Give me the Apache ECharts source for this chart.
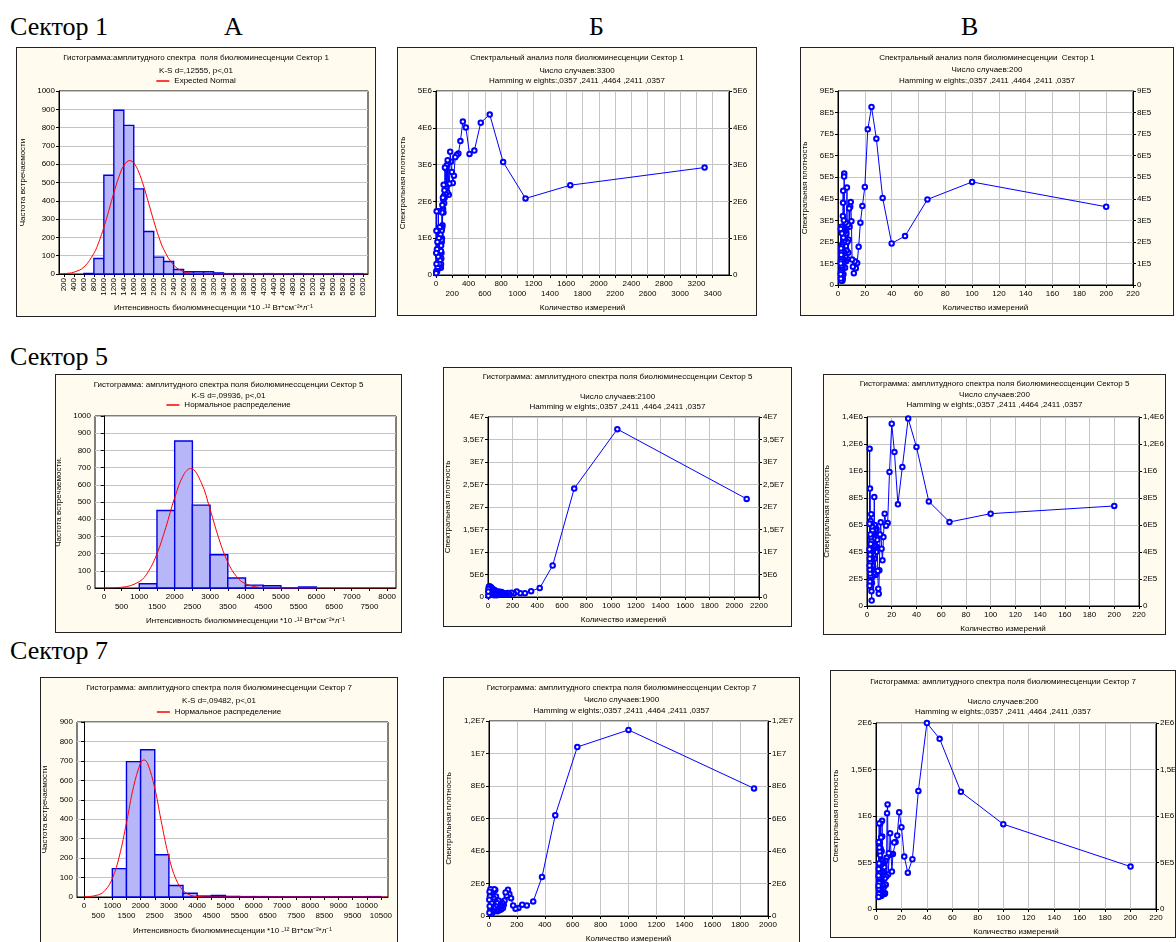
<!DOCTYPE html>
<html>
<head>
<meta charset="utf-8">
<title>Сектор 1, 5, 7</title>
<script src="https://cdn.jsdelivr.net/npm/echarts@6/dist/echarts.min.js"></script>
<style>
	body{margin:0;background:#fff;width:1176px;height:942px;overflow:hidden;position:relative}
	.hd{position:absolute;font-family:"Liberation Serif","Times New Roman",serif;font-size:26px;line-height:26px;color:#000;white-space:nowrap}
	.panel{position:absolute;background:#fffcef;border:1px solid #222;box-sizing:border-box}
</style>
</head>
<body>
<div class="hd" style="left:10px;top:14px">Сектор 1</div>
<div class="hd" style="left:224px;top:14px">А</div>
<div class="hd" style="left:589px;top:14px">Б</div>
<div class="hd" style="left:961px;top:14px">В</div>
<div class="hd" style="left:10px;top:344px">Сектор 5</div>
<div class="hd" style="left:10px;top:638px">Сектор 7</div>
<script>
// ---- histograms (column A): bin start, counts, fitted normal curve
var a1Bins = [600,800,1000,1200,1400,1600,1800,2000,2200,2400,2600,2800,3000,3200,3400,3600,3800,4000,4200,4400,4600,4800,5000,5200,5400,5600,5800,6000];
var a1Counts = [3,85,540,895,812,465,232,92,68,25,12,12,12,6,2,2,2,1,2,1,1,2,1,1,1,2,1,2];
var a1NormX = [100,200,400,600,800,900,1000,1100,1200,1300,1400,1520,1600,1700,1800,1900,2000,2100,2200,2400,2600,2800,3000,3400,6300];
var a1NormY = [1,2,10,38,113,175,255,347,443,529,592,620,607,557,479,386,291,205,135,49,13,3,1,0,0];

var a2Bins = [1000,1500,2000,2500,3000,3500,4000,4500,5000,5500];
var a2Counts = [25,451,855,482,193,58,17,13,0,6];
var a2NormX = [0,500,1000,1250,1500,1750,2000,2250,2450,2750,3000,3250,3500,3750,4000,4500,5000,8250];
var a2NormY = [0,4,37,94,199,352,525,657,695,613,457,286,150,66,25,2,0,0];

var a3Bins = [1000,1500,2000,2500,3000,3500,4000,4500,5000,5500,6000,6500,7000,7500,8000,8500,9000,9500,10000];
var a3Counts = [146,696,757,217,59,19,5,8,3,2,2,1,1,1,1,1,1,1,2];
var a3NormX = [0,500,750,1000,1250,1500,1750,2000,2120,2250,2500,2750,3000,3250,3500,3750,4000,4500,10750];
var a3NormY = [0,11,35,95,211,382,567,689,705,686,560,374,205,92,34,10,3,0,0];

// ---- spectra (columns Б, В): [period, spectral density]
var b1Spec = [[3300,2.92e6],[1650,2.44e6],[1100,2.08e6],[825,3.07e6],[660,4.36e6],[550,4.14e6],[471,3.38e6],[412,3.29e6],[367,4.01e6],[330,4.17e6],
	[300,3.64e6],[275,3.30e6],[254,3.26e6],[236,3.20e6],[220,2.70e6],[206,2.50e6],[194,2.80e6],[183,3.08e6],[174,3.35e6],[165,2.48e6],
	[157,2.18e6],[150,3.05e6],[143,3.12e6],[138,2.25e6],[132,2.98e6],[127,2.40e6],[122,2.90e6],[118,2.20e6],[114,2.45e6],[110,2.92e6],
	[106,2.10e6],[103,2.30e6],[100,1.95e6],[97,2.15e6],[94,2.45e6],[92,1.70e6],[89,2.05e6],[87,1.80e6],[85,2.10e6],[82,1.75e6],
	[80,1.35e6],[78,1.90e6],[76,1.30e6],[75,1.70e6],[73,1.00e6],[72,1.25e6],[70,0.90e6],[69,1.20e6],[67,0.60e6],[66,0.95e6],
	[65,0.45e6],[63,0.80e6],[62,0.30e6],[61,0.65e6],[60,0.20e6],[55,1.10e6],[50,0.40e6],[45,1.30e6],[40,0.30e6],[36,1.00e6],
	[33,0.20e6],[30,1.73e6],[27,0.50e6],[24,1.20e6],[20,0.20e6],[17,0.90e6],[14,0.10e6],[12,0.70e6],[10,0.10e6],[8,1.73e6],
	[6,0.30e6],[5,1.20e6],[4,0.10e6],[3,0.60e6],[2,0.05e6]];

var c1Spec = [[200,3.63e5],[100,4.78e5],[66.7,3.97e5],[50,2.27e5],[40,1.93e5],[33.3,4.04e5],[28.6,6.79e5],[25,8.26e5],[22.2,7.22e5],[20,4.55e5],
	[18.2,3.67e5],[16.7,2.89e5],[15.4,1.77e5],[14.3,1.02e5],[13.3,0.78e5],[12.5,1.10e5],[11.8,0.55e5],[11.1,0.85e5],[10.5,1.18e5],[10,2.96e5],
	[9.5,3.85e5],[9.1,3.63e5],[8.7,2.70e5],[8.3,3.55e5],[8,2.10e5],[7.7,1.50e5],[7.4,2.80e5],[7.1,1.20e5],[6.9,2.00e5],[6.67,4.52e5],
	[6.45,1.60e5],[6.25,2.40e5],[6.06,1.10e5],[5.88,1.80e5],[5.71,2.90e5],[5.56,1.30e5],[5.41,2.50e5],[5.26,0.80e5],[5.13,2.10e5],[5,1.50e5],
	[4.88,2.60e5],[4.76,1.10e5],[4.65,5.17e5],[4.55,5.03e5],[4.44,2.00e5],[4.35,3.00e5],[4.26,1.20e5],[4.17,2.60e5],[4.08,0.50e5],[4,2.20e5],
	[3.92,1.00e5],[3.85,4.37e5],[3.77,3.81e5],[3.7,1.50e5],[3.64,3.20e5],[3.57,0.30e5],[3.51,2.40e5],[3.45,0.80e5],[3.39,2.70e5],[3.33,1.70e5],
	[3.28,0.20e5],[3.23,1.90e5],[3.17,1.20e5],[3.13,2.60e5],[3.08,0.60e5],[3.03,1.60e5],[2.99,0.90e5],[2.94,2.40e5],[2.9,1.30e5],[2.86,0.40e5],
	[2.82,1.80e5],[2.78,1.10e5],[2.74,2.60e5],[2.7,0.70e5],[2.67,1.50e5],[2.63,0.30e5],[2.6,1.20e5],[2.56,2.70e5],[2.53,0.90e5],[2.5,1.60e5],
	[2.44,0.50e5],[2.38,1.40e5],[2.33,0.20e5],[2.27,1.70e5],[2.22,0.60e5],[2.17,1.10e5],[2.13,0.30e5],[2.08,1.00e5],[2.04,2.60e5],[2,0.50e5]];

var b2Spec = [[2100,21.8e6],[1050,37.3e6],[700,24.1e6],[525,7.0e6],[420,2.0e6],[350,1.3e6],[300,0.85e6],[262,0.85e6],[233,1.2e6],[210,0.8e6],
	[191,0.95e6],[175,0.6e6],[162,0.9e6],[150,0.5e6],[140,0.8e6],[131,0.6e6],[124,0.9e6],[117,0.7e6],[110,1.1e6],[105,0.8e6],
	[100,0.6e6],[95,1.0e6],[91,0.7e6],[88,1.2e6],[84,0.5e6],[81,0.9e6],[78,0.6e6],[75,1.0e6],[72,0.4e6],[70,1.1e6],
	[66,0.5e6],[62,1.3e6],[58,0.6e6],[55,1.5e6],[50,0.4e6],[46,1.6e6],[42,0.7e6],[38,1.8e6],[35,0.5e6],[32,1.9e6],
	[29,0.8e6],[26,2.1e6],[23,0.6e6],[20,2.3e6],[17,0.9e6],[15,2.0e6],[13,0.5e6],[11,2.4e6],[9,0.8e6],[7,2.2e6],
	[5,0.4e6],[4,1.8e6],[3,0.3e6],[2,1.2e6]];

var c2Spec = [[200,7.41e5],[100,6.84e5],[66.7,6.22e5],[50,7.75e5],[40,11.78e5],[33.3,13.88e5],[28.6,10.3e5],[25,7.53e5],[22.2,11.4e5],[20,13.5e5],
	[18.2,9.93e5],[16.7,6.15e5],[15.4,5.95e5],[14.3,6.84e5],[13.3,5.11e5],[12.5,3.38e5],[11.8,4.25e5],[11.1,6.2e5],[10.5,5.3e5],[10,2.64e5],
	[9.5,0.91e5],[9.1,1.28e5],[8.7,2.6e5],[8.3,4.9e5],[8,4.37e5],[7.7,5.7e5],[7.4,4.0e5],[7.1,5.6e5],[6.9,2.3e5],[6.67,5.9e5],
	[6.45,4.4e5],[6.25,6.0e5],[6.06,3.5e5],[5.88,8.07e5],[5.71,4.5e5],[5.56,2.4e5],[5.41,5.5e5],[5.26,3.8e5],[5.13,5.0e5],[5,2.9e5],
	[4.88,5.8e5],[4.76,4.1e5],[4.65,5.3e5],[4.55,3.0e5],[4.44,5.6e5],[4.35,2.2e5],[4.26,4.6e5],[4.17,3.5e5],[4.08,5.9e5],[4,1.7e5],
	[3.92,4.0e5],[3.85,2.6e5],[3.77,0.4e5],[3.7,3.6e5],[3.64,1.1e5],[3.57,4.8e5],[3.51,2.0e5],[3.45,6.8e5],[3.39,3.3e5],[3.33,5.3e5],
	[3.28,1.4e5],[3.23,4.3e5],[3.17,2.6e5],[3.13,5.1e5],[3.08,3.9e5],[3.03,1.8e5],[2.99,4.6e5],[2.94,2.7e5],[2.9,6.3e5],[2.86,3.6e5],
	[2.82,2.2e5],[2.78,5.3e5],[2.74,3.0e5],[2.7,4.2e5],[2.67,1.9e5],[2.63,4.1e5],[2.6,3.2e5],[2.56,6.1e5],[2.53,2.4e5],[2.5,3.8e5],
	[2.44,8.7e5],[2.38,1.8e5],[2.33,4.2e5],[2.27,2.7e5],[2.22,3.5e5],[2.17,1.5e5],[2.13,11.65e5],[2.08,3.0e5],[2.04,6.1e5],[2,4.2e5]];

var b3Spec = [[1900,7.85e6],[1000,11.45e6],[633,10.4e6],[475,6.2e6],[380,2.4e6],[317,0.9e6],[271,0.65e6],[238,0.7e6],[211,0.5e6],[190,0.45e6],
	[173,0.65e6],[158,1.1e6],[146,1.35e6],[136,1.62e6],[127,1.25e6],[119,1.45e6],[112,0.95e6],[106,0.7e6],[100,0.5e6],[95,0.8e6],
	[90,0.55e6],[86,0.4e6],[83,0.75e6],[79,0.6e6],[76,0.9e6],[73,0.35e6],[70,0.7e6],[68,0.95e6],[66,0.5e6],[63,0.6e6],
	[61,0.3e6],[59,0.55e6],[56,0.8e6],[53,0.35e6],[50,1.2e6],[48,0.6e6],[45,1.6e6],[42,0.4e6],[40,1.0e6],[38,1.65e6],
	[35,0.5e6],[32,1.1e6],[30,0.3e6],[27,0.9e6],[25,0.2e6],[22,1.3e6],[20,0.4e6],[18,0.8e6],[16,0.15e6],[14,1.4e6],
	[12,0.5e6],[10,1.65e6],[8,0.3e6],[6,1.2e6],[5,0.6e6],[4,1.5e6],[3,0.2e6],[2,1.0e6]];

var c3Spec = [[200,4.56e5],[100,9.12e5],[66.7,12.6e5],[50,18.3e5],[40,20.0e5],[33.3,12.7e5],[28.6,5.35e5],[25,3.91e5],[22.2,5.64e5],[20,8.8e5],
	[18.2,10.4e5],[16.7,7.9e5],[15.4,7.2e5],[14.3,7.15e5],[13.3,5.92e5],[12.5,4.02e5],[11.8,5.9e5],[11.1,8.15e5],[10.5,5.8e5],[10,6.0e5],
	[9.5,3.7e5],[9.1,11.25e5],[8.7,10.3e5],[8.3,5.5e5],[8,3.5e5],[7.7,2.6e5],[7.4,5.2e5],[7.1,1.7e5],[6.9,3.3e5],[6.67,1.6e5],
	[6.45,4.5e5],[6.25,2.4e5],[6.06,3.9e5],[5.88,1.8e5],[5.71,5.2e5],[5.56,2.2e5],[5.41,3.6e5],[5.26,1.7e5],[5.13,4.0e5],[5,2.6e5],
	[4.88,7.8e5],[4.76,9.48e5],[4.65,5.2e5],[4.55,3.0e5],[4.44,6.2e5],[4.35,2.0e5],[4.26,4.8e5],[4.17,1.4e5],[4.08,3.4e5],[4,7.7e5],
	[3.92,2.3e5],[3.85,5.0e5],[3.77,1.8e5],[3.7,3.9e5],[3.64,6.5e5],[3.57,2.8e5],[3.51,4.2e5],[3.45,1.5e5],[3.39,9.2e5],[3.33,3.6e5],
	[3.28,5.8e5],[3.23,2.0e5],[3.17,4.5e5],[3.13,2.9e5],[3.08,7.1e5],[3.03,1.6e5],[2.99,4.0e5],[2.94,2.4e5],[2.9,6.2e5],[2.86,3.2e5],
	[2.82,1.5e5],[2.78,4.9e5],[2.74,2.6e5],[2.7,3.8e5],[2.67,1.9e5],[2.63,6.6e5],[2.6,3.0e5],[2.56,4.4e5],[2.53,1.4e5],[2.5,9.2e5],
	[2.44,2.8e5],[2.38,4.9e5],[2.33,1.6e5],[2.27,3.4e5],[2.22,7.2e5],[2.17,2.2e5],[2.13,4.3e5],[2.08,1.3e5],[2.04,3.6e5],[2,2.5e5]];

var hamming = 'Hamming w eights:,0357 ,2411 ,4464 ,2411 ,0357';
var histXName = 'Интенсивность биолюминесценции *10 -¹² Вт*см⁻²*л⁻¹';
var specXName = 'Количество измерений';
var specYName = 'Спектральная плотность';

var FONT = '"Liberation Sans", Arial, sans-serif';
var GRIDC = '#c4c4c4';

function range(a, b, step) {
	var r = [];
	for (var v = a; v <= b; v += step) r.push(v);
	return r;
}

function plain(v) { return String(v); }

// 1E6, 1,5E7 ... like Statistica
function sci(v) {
	if (v === 0) return '0';
	var e = Math.floor(Math.log10(v) + 1e-9);
	var m = Math.round(v / Math.pow(10, e) * 10) / 10;
	return String(m).replace('.', ',') + 'E' + e;
}

function makePanel(box) {
	var d = document.createElement('div');
	d.className = 'panel';
	d.style.left = box[0] + 'px';
	d.style.top = box[1] + 'px';
	d.style.width = box[2] + 'px';
	d.style.height = box[3] + 'px';
	document.body.appendChild(d);
	return echarts.init(d);
}

function titles(list) {
	return list.map(function (t) {
		return {text: t[0], left: 'center', top: t[1] - 5, padding: 0,
			textStyle: {fontSize: 8, fontWeight: 'normal', color: '#000', fontFamily: FONT}};
	});
}

function histogram(c) {
	var chart = makePanel(c.box);
	var bars = c.bins.map(function (b, i) { return [b, c.counts[i], b + c.binWidth]; });
	var curve = c.normX.map(function (x, i) { return [x, c.normY[i]]; });
	var fmt = c.xFormat || plain;
	chart.setOption({
		animation: false,
		textStyle: {fontFamily: FONT},
		title: titles(c.titles),
		legend: {top: c.legendTop - 5, left: 'center', padding: 0, icon: 'rect', itemWidth: 13, itemHeight: 1.5,
			textStyle: {fontSize: 8, color: '#000'}, data: [c.normName]},
		grid: Object.assign({show: true, backgroundColor: '#fff', borderColor: '#000', borderWidth: 1,
			containLabel: false, outerBoundsMode: 'none'}, c.grid),
		xAxis: {
			type: 'value', min: c.xMin, max: c.xMax,
			name: histXName, nameLocation: 'middle', nameGap: c.xNameGap,
			nameTextStyle: {fontSize: 8, color: '#000'},
			axisLine: {lineStyle: {color: '#000'}},
			axisTick: {customValues: c.xTicks, length: 3, lineStyle: {color: '#000'}},
			// an empty label at the axis end keeps the real last labels out of min/max overlap hiding
			axisLabel: {customValues: c.xTicks.concat([c.xMax]), fontSize: 8, color: '#000', margin: 4, rotate: c.rotate || 0,
				lineHeight: 10, hideOverlap: false, showMinLabel: true, showMaxLabel: false,
				formatter: function (v) { return v === c.xMax ? '' : fmt(v); }},
			splitLine: {show: false}
		},
		yAxis: {
			type: 'value', min: 0, max: c.yMax, interval: 100,
			name: c.yName, nameLocation: 'middle', nameGap: c.yNameGap,
			nameTextStyle: {fontSize: 8, color: '#000'},
			axisLine: {show: true, lineStyle: {color: '#000'}},
			axisTick: {show: true, length: 3, lineStyle: {color: '#000'}},
			axisLabel: {fontSize: 8, color: '#000', margin: 4, formatter: plain},
			splitLine: {lineStyle: {color: GRIDC}}
		},
		series: [{
			type: 'custom',
			data: bars,
			encode: {x: [0, 2], y: 1},
			renderItem: function (params, api) {
				var s = api.coord([api.value(0), api.value(1)]);
				var e = api.coord([api.value(2), 0]);
				return {type: 'rect', shape: {x: s[0], y: s[1], width: e[0] - s[0], height: e[1] - s[1]},
					style: {fill: '#b6b6f8', stroke: '#0000e6', lineWidth: 1.4}};
			}
		}, {
			type: 'line', name: c.normName, data: curve, smooth: 0.4, symbol: 'none',
			itemStyle: {color: '#ff0000'}, lineStyle: {color: '#ff0000', width: 1}
		}]
	});
}

function spectrum(c) {
	var chart = makePanel(c.box);
	var yAx = function (right) {
		return {
			type: 'value', min: 0, max: c.yMax, interval: c.yStep, position: right ? 'right' : 'left',
			name: right ? '' : specYName, nameLocation: 'middle', nameGap: c.yNameGap,
			nameTextStyle: {fontSize: 8, color: '#000'},
			axisLine: {show: true, lineStyle: {color: '#000'}},
			axisTick: {show: true, length: 3, lineStyle: {color: '#000'}},
			axisLabel: {fontSize: 8, color: '#000', margin: 4, formatter: sci},
			splitLine: {show: !right, lineStyle: {color: GRIDC}}
		};
	};
	chart.setOption({
		animation: false,
		textStyle: {fontFamily: FONT},
		title: titles(c.titles),
		grid: Object.assign({show: true, backgroundColor: '#fff', borderColor: '#000', borderWidth: 1,
			containLabel: false, outerBoundsMode: 'none'}, c.grid),
		xAxis: {
			type: 'value', min: 0, max: c.xMax, interval: c.xStep,
			name: specXName, nameLocation: 'middle', nameGap: c.xNameGap,
			nameTextStyle: {fontSize: 8, color: '#000'},
			axisLine: {lineStyle: {color: '#000'}},
			axisTick: {length: 3, lineStyle: {color: '#000'}},
			axisLabel: {fontSize: 8, color: '#000', margin: 4, lineHeight: 10,
				formatter: function (v) { return (c.stagger && (v / c.xStep) % 2 === 1 ? '\n' : '') + v; }},
			splitLine: {show: true, lineStyle: {color: GRIDC}}
		},
		yAxis: [yAx(false), yAx(true)],
		series: [{
			type: 'line', data: c.data, symbol: 'emptyCircle', symbolSize: 4.5,
			itemStyle: {color: '#0000ff', borderWidth: 0.8},
			lineStyle: {color: '#0000ff', width: 1}
		}]
	});
}

// ---- column A
histogram({
	box: [16, 47, 360, 270], grid: {left: 42, top: 43, right: 7, bottom: 42},
	titles: [['Гистограмма:амплитудного спектра  поля биолюминесценции Сектор 1', 11], ['K-S d=,12555, p<,01', 24]],
	legendTop: 34, normName: 'Expected Normal',
	bins: a1Bins, counts: a1Counts, binWidth: 200, normX: a1NormX, normY: a1NormY,
	xMin: 100, xMax: 6300, xTicks: range(200, 6200, 200), rotate: 90, xNameGap: 30,
	yMax: 1000, yName: 'Частота встречаемости', yNameGap: 25
});
histogram({
	box: [55, 374, 347, 259], grid: {left: 39, top: 41, right: 5, bottom: 44},
	titles: [['Гистограмма: амплитудного спектра поля биолюминессценции Сектор 5', 11], ['K-S d=,09936, p<,01', 22]],
	legendTop: 31, normName: 'Нормальное распределение',
	bins: a2Bins, counts: a2Counts, binWidth: 500, normX: a2NormX, normY: a2NormY,
	xMin: -250, xMax: 8250, xTicks: range(0, 8000, 500), xNameGap: 26,
	xFormat: function (v) { return ((v / 500) % 2 === 1 ? '\n' : '') + v; },
	yMax: 1000, yName: 'Частота встречаемости.', yNameGap: 26
});
histogram({
	box: [40, 677, 358, 270], grid: {left: 36, top: 44, right: 9, bottom: 49},
	titles: [['Гистограмма: амплитудного спектра поля биолюминесценции Сектор 7', 11], ['K-S d=,09482, p<,01', 24]],
	legendTop: 35, normName: 'Нормальное распределение',
	bins: a3Bins, counts: a3Counts, binWidth: 500, normX: a3NormX, normY: a3NormY,
	xMin: -250, xMax: 10750, xTicks: range(0, 10500, 500), xNameGap: 30,
	xFormat: function (v) { return ((v / 500) % 2 === 1 ? '\n' : '') + v; },
	yMax: 900, yName: 'Частота встречаемости', yNameGap: 24
});

// ---- column Б
spectrum({
	box: [397, 47, 360, 269], grid: {left: 38, top: 43, right: 27, bottom: 40},
	titles: [['Спектральный анализ поля биолюминесценции Сектор 1', 11], ['Число случаев:3300', 24], [hamming, 34]],
	data: b1Spec, xMax: 3600, xStep: 200, stagger: true, xNameGap: 28,
	yMax: 5e6, yStep: 1e6, yNameGap: 24
});
spectrum({
	box: [443, 367, 349, 260], grid: {left: 44, top: 49, right: 32, bottom: 29},
	titles: [['Гистограмма: амплитудного спектра поля биолюминессценции Сектор 5', 10], ['Число случаев:2100', 30], [hamming, 40]],
	data: b2Spec, xMax: 2200, xStep: 200, xNameGap: 17,
	yMax: 4e7, yStep: 5e6, yNameGap: 31
});
spectrum({
	box: [443, 677, 357, 270], grid: {left: 45, top: 43, right: 31, bottom: 30},
	titles: [['Гистограмма: амплитудного спектра поля биолюминессценции Сектор 7', 11], ['Число случаев:1900', 23], [hamming, 34]],
	data: b3Spec, xMax: 2000, xStep: 200, xNameGap: 17,
	yMax: 1.2e7, yStep: 2e6, yNameGap: 34
});

// ---- column В
spectrum({
	box: [800, 47, 374, 269], grid: {left: 37, top: 43, right: 40, bottom: 30},
	titles: [['Спектральный анализ поля биолюминесценции  Сектор 1', 11], ['Число случаев:200', 23], [hamming, 34]],
	data: c1Spec, xMax: 220, xStep: 20, xNameGap: 19,
	yMax: 9e5, yStep: 1e5, yNameGap: 24
});
spectrum({
	box: [823, 374, 343, 261], grid: {left: 43, top: 42, right: 26, bottom: 28},
	titles: [['Гистограмма: амплитудного спектра поля биолюминессценции Сектор 5', 10], ['Число случаев:200', 21], [hamming, 31]],
	data: c2Spec, xMax: 220, xStep: 20, xNameGap: 17,
	yMax: 1.4e6, yStep: 2e5, yNameGap: 30
});
spectrum({
	box: [830, 670, 346, 268], grid: {left: 45, top: 52, right: 19, bottom: 28},
	titles: [['Гистограмма: амплитудного спектра поля биолюминесценции Сектор 7', 12], ['Число случаев:200', 32], [hamming, 42]],
	data: c3Spec, xMax: 220, xStep: 20, xNameGap: 19,
	yMax: 2e6, yStep: 5e5, yNameGap: 31
});
</script>
</body>
</html>
